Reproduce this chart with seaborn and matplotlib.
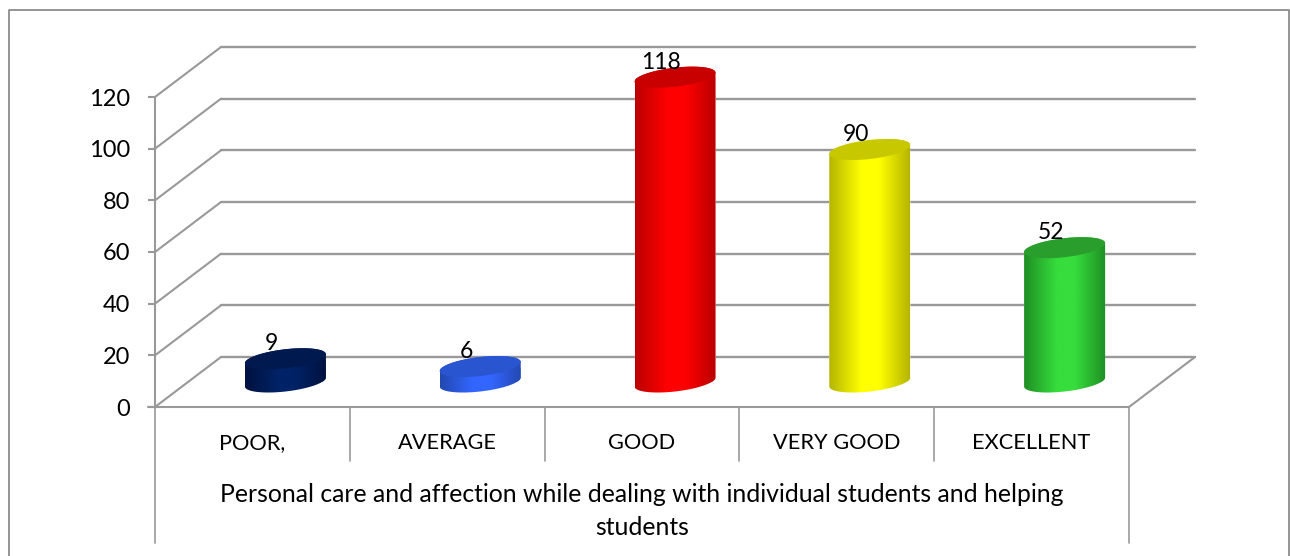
import numpy as np
import pandas as pd
import seaborn as sns
import matplotlib.pyplot as plt
from matplotlib.colors import LinearSegmentedColormap
from matplotlib.lines import Line2D
from matplotlib.patches import Polygon
from matplotlib.transforms import Affine2D

categories = ["POOR,", "AVERAGE", "GOOD", "VERY GOOD", "EXCELLENT"]
values = [9, 6, 118, 90, 52]
y_ticks = [0, 20, 40, 60, 80, 100, 120]
axis_title = "Personal care and affection while dealing with individual students and helping\nstudents"

# colours of each cylinder
body_colors = ["#002266", "#3366ff", "#ff0000", "#ffff00", "#36dd3c"]
edge_colors = ["#001240", "#2348b0", "#bb0000", "#b5b500", "#1f8f24"]
top_colors = ["#001a50", "#2a55d0", "#c80000", "#c8c800", "#2a9e2c"]

W, H = 1290, 556
GREY = "#999999"
DX, DY = 33, 25  # half depth of the fake 3d box, pixels
LEFT, BOTTOM, PW, PH = 155, 407, 974, 310  # front plane, pixels

sns.set_theme(style="white")
plt.rcParams["font.family"] = ["Lato", "DejaVu Sans"]
plt.rcParams["text.color"] = "black"

fig = plt.figure(figsize=(W / 100, H / 100), dpi=100)


def box(dx, dy):
    return [(LEFT + dx) / W, (H - BOTTOM + dy) / H, PW / W, PH / H]


# front plane holds the axis, the bars sit half way into the box
ax_f = fig.add_axes(box(0, 0))
ax = fig.add_axes(box(DX, DY), zorder=2)
ax.patch.set_visible(False)

df = pd.DataFrame({"category": categories, "value": values})
sns.barplot(data=df, x="category", y="value", hue="category", order=categories,
            palette=body_colors, width=0.415, dodge=False, legend=False, ax=ax)

for a in (ax, ax_f):
    a.set_xlim(-0.5, 4.5)
    a.set_ylim(0, 120)
sns.despine(ax=ax, left=True, bottom=True)
sns.despine(ax=ax_f, top=True, right=True)
ax.set_xlabel("")
ax.set_ylabel("")
ax.set_xticks([])
ax.set_yticks([])

unit_x = 5 / PW
unit_y = 120 / PH
back = ax.transData + Affine2D().translate(DX, DY)

# back wall and its diagonals
for t in y_ticks:
    ax.plot([-0.5, 4.5], [t, t], transform=back, color=GREY, lw=1.7, zorder=0, clip_on=False)
    ax.plot([-0.5 - DX * unit_x, -0.5 + DX * unit_x], [t - DY * unit_y, t + DY * unit_y],
            color=GREY, lw=1.5, zorder=0, clip_on=False)
ax.plot([4.5 - DX * unit_x, 4.5 + DX * unit_x], [-DY * unit_y, DY * unit_y],
        color=GREY, lw=1.5, zorder=0, clip_on=False)

a_px, b_px, s_px = 40.5, 9.5, 4.5
th_low = np.linspace(np.pi, 2 * np.pi, 60)
th_up = np.linspace(0, np.pi, 60)


def ellipse(cx, cy, th):
    return np.column_stack([cx + a_px * unit_x * np.cos(th),
                            cy + (b_px * np.sin(th) + s_px * np.cos(th)) * unit_y])


for i, bar in enumerate(ax.patches[:len(values)]):
    cx = bar.get_x() + bar.get_width() / 2
    h = bar.get_height()
    outline = Polygon(np.vstack([ellipse(cx, 0, th_low), ellipse(cx, h, th_up)]),
                      transform=ax.transData, facecolor="none", edgecolor="none", clip_on=False)
    ax.add_patch(outline)
    bar.set_clip_path(outline)

    cmap = LinearSegmentedColormap.from_list(
        "c", [(0, edge_colors[i]), (0.4, body_colors[i]), (0.62, body_colors[i]), (1, edge_colors[i])])
    half = a_px * unit_x
    im = ax.imshow(np.linspace(0, 1, 128).reshape(1, -1), cmap=cmap, aspect="auto",
                   extent=[cx - half, cx + half, -15 * unit_y, h + 15 * unit_y], zorder=3)
    # the axes box would cut the underside of the cylinder
    im.set_clip_box(fig.bbox)
    im.set_clip_path(outline)
    ax.add_patch(Polygon(ellipse(cx, h, np.linspace(0, 2 * np.pi, 120)), facecolor=top_colors[i],
                         edgecolor="none", zorder=4, clip_on=False))
    ax.annotate(str(values[i]), (cx, h), xytext=(-14 * 0.72, 15 * 0.72), textcoords="offset points",
                ha="center", va="center", fontsize=16.5, color="black", zorder=5, annotation_clip=False)

ax.set_xlim(-0.5, 4.5)
ax.set_ylim(0, 120)

# front axis, category boxes
ax_f.set_yticks(y_ticks)
ax_f.set_xticks(range(len(categories)))
ax_f.set_xticklabels(categories)
ax_f.tick_params(axis="y", length=5, width=1.5, color=GREY, labelsize=17, pad=13, left=True, labelcolor="black")
ax_f.tick_params(axis="x", length=0, labelsize=15.7, pad=18.7, labelcolor="black")
for side in ("left", "bottom"):
    ax_f.spines[side].set_color(GREY)
    ax_f.spines[side].set_linewidth(1.5)
ax_f.plot([-0.5, -0.5 - 5 / PW * 7], [0, 0], color=GREY, lw=1.5, clip_on=False)

for j in range(1, 5):
    ax_f.plot([j - 0.5, j - 0.5], [0, -54 * unit_y], color=GREY, lw=1.2, clip_on=False)
for xe in (-0.5, 4.5):
    ax_f.plot([xe, xe], [0, -136 * unit_y], color=GREY, lw=1.2, clip_on=False)
ax_f.set_xlim(-0.5, 4.5)
ax_f.set_ylim(0, 120)
ax_f.set_ylabel("")
ax_f.set_xlabel(axis_title, fontsize=17.8, linespacing=1.56, labelpad=21.5, color="black")

# outer chart border, open at the bottom
fx = [9 / W, 9 / W, 1288.5 / W, 1288.5 / W]
fy = [0, 1 - 10 / H, 1 - 10 / H, 0]
fig.add_artist(Line2D(fx, fy, color="#8c8c8c", lw=1.3))

fig.savefig("out.png", dpi=100, facecolor="white")
